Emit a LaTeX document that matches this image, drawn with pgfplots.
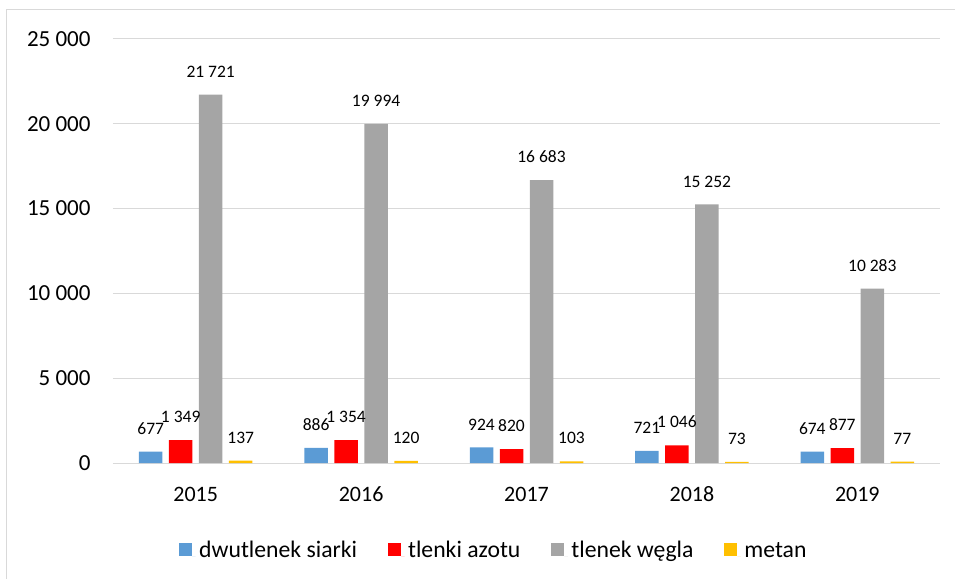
\documentclass[border=0pt]{standalone}
\usepackage{fontspec}
\setmainfont{Carlito}
\usepackage{pgfplots}
\pgfplotsset{compat=1.18}
\definecolor{cblue}{HTML}{5B9BD5}
\definecolor{cred}{HTML}{FF0000}
\definecolor{cgray}{HTML}{A5A5A5}
\definecolor{cyel}{HTML}{FFC000}
\definecolor{cgrid}{HTML}{D9D9D9}
\begin{document}
\begin{tikzpicture}[x=1pt,y=1pt]
\useasboundingbox (-113,463) rectangle (842,-115);
\draw[cgrid, line width=1pt] (-106,453) rectangle (850,-125);
\begin{axis}[
  at={(0,0)}, anchor=south west,
  scale only axis, width=827pt, height=424pt,
  xmin=-0.5, xmax=4.5, ymin=0, ymax=25000,
  ybar=6.5pt, bar width=23.5pt,
  xtick={0,1,2,3,4}, xticklabels={2015,2016,2017,2018,2019},
  ytick={0,5000,10000,15000,20000,25000},
  scaled y ticks=false,
  axis lines*=left,
  y axis line style={draw=none},
  x axis line style={cgrid, line width=1pt},
  major tick length=0pt,
  ymajorgrids, grid style={cgrid, line width=1pt},
  /pgf/number format/.cd, assume math mode=true, 1000 sep={\ }, /pgfplots/.cd,
  yticklabel style={font=\fontsize{23}{27}\selectfont, inner sep=0pt, anchor=east, xshift=-22.3pt},
  xticklabel style={font=\fontsize{22}{26}\selectfont, inner sep=0pt, anchor=north, yshift=-23.7pt},
  nodes near coords,
  every node near coord/.append style={font=\fontsize{17.5}{21}\selectfont, inner sep=0pt, anchor=south, yshift=17pt, black},
  legend columns=-1,
  legend image code/.code={\fill[#1] (0pt,1.5pt) rectangle (13pt,14.5pt); \path (13pt,1.5pt) -- (16.5pt,1.5pt);},
  legend style={at={(0.0798,-0.206)}, anchor=west, draw=none, fill=none,
    font=\fontsize{23.7}{28}\selectfont, inner sep=0pt,
    nodes={inner sep=3.5pt, anchor=base west},
    /tikz/every even column/.append style={column sep=27.5pt}},
]
\addplot[fill=cblue, draw=none] coordinates {(0,677) (1,886) (2,924) (3,721) (4,674)};
\addplot[fill=cred, draw=none] coordinates {(0,1349) (1,1354) (2,820) (3,1046) (4,877)};
\addplot[fill=cgray, draw=none] coordinates {(0,21721) (1,19994) (2,16683) (3,15252) (4,10283)};
\addplot[fill=cyel, draw=none] coordinates {(0,137) (1,120) (2,103) (3,73) (4,77)};
\legend{dwutlenek siarki, tlenki azotu, tlenek węgla, metan}
\end{axis}
\end{tikzpicture}
\end{document}
